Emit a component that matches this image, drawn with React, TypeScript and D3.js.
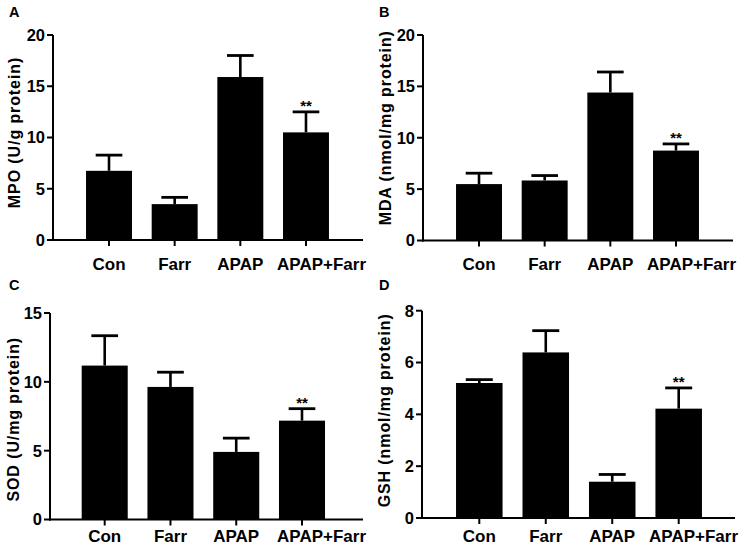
import React from "react";
import * as d3 from "d3";

const categories = ["Con", "Farr", "APAP", "APAP+Farr"];
const significance = ["", "", "", "**"];

const mpoMean = [6.75, 3.5, 15.9, 10.5];
const mpoSem = [1.53, 0.66, 2.1, 2.0];
const mpoTicks = [0, 5, 10, 15, 20];

const mdaMean = [5.49, 5.84, 14.4, 8.75];
const mdaSem = [1.06, 0.48, 2.0, 0.65];
const mdaTicks = [0, 5, 10, 15, 20];

const sodMean = [11.18, 9.63, 4.91, 7.18];
const sodSem = [2.17, 1.07, 1.0, 0.87];
const sodTicks = [0, 5, 10, 15];

const gshMean = [5.21, 6.39, 1.4, 4.22];
const gshSem = [0.13, 0.84, 0.28, 0.8];
const gshTicks = [0, 2, 4, 6, 8];

const FONT = "'Liberation Sans', Arial, Helvetica, sans-serif";

type PanelProps = {
  letter: string;
  label: string;
  means: number[];
  sems: number[];
  ticks: number[];
  ox: number;
  oy: number;
  axisX: number;
  xEnd: number;
  bandStart: number;
  bandEnd: number;
  yTop: number;
  y0: number;
  labelX: number;
  labelDy?: number;
  xLabelOffset: number;
};

function Panel(p: PanelProps) {
  const yMax = p.ticks[p.ticks.length - 1];
  const y = d3.scaleLinear().domain([0, yMax]).range([p.y0, p.yTop]);
  const x = d3
    .scaleBand<string>()
    .domain(categories)
    .range([p.bandStart, p.bandEnd])
    .paddingInner(0.3)
    .paddingOuter(0.5);
  const bw = x.bandwidth();
  const capW = bw * 0.58;
  const midY = (p.y0 + p.yTop) / 2 + (p.labelDy || 0);
  return (
    <g transform={`translate(${p.ox},${p.oy})`} fontFamily={FONT} fontWeight="bold">
      <text x={9} y={17} fontSize={14.5}>
        {p.letter}
      </text>
      {categories.map((c, i) => {
        const x0 = x(c)!;
        const cx = x0 + bw / 2;
        const top = y(p.means[i]);
        const errTop = y(p.means[i] + p.sems[i]);
        return (
          <g key={c}>
            <line x1={cx} x2={cx} y1={top} y2={errTop} stroke="#000" strokeWidth={2.6} />
            <line
              x1={cx - capW / 2}
              x2={cx + capW / 2}
              y1={errTop}
              y2={errTop}
              stroke="#000"
              strokeWidth={2.8}
            />
            <rect x={x0} y={top} width={bw} height={p.y0 - top} fill="#000" />
            {significance[i] && (
              <text x={cx} y={errTop - 0.5} textAnchor="middle" fontSize={15}>
                {significance[i]}
              </text>
            )}
          </g>
        );
      })}
      <line x1={p.axisX} x2={p.axisX} y1={p.yTop} y2={p.y0 + 1} stroke="#000" strokeWidth={2} />
      {p.ticks.map((t) => (
        <g key={t}>
          <line x1={p.axisX - 6} x2={p.axisX} y1={y(t)} y2={y(t)} stroke="#000" strokeWidth={2} />
          <text x={p.axisX - 8} y={y(t)} dy="0.36em" textAnchor="end" fontSize={16.5}>
            {t}
          </text>
        </g>
      ))}
      <line x1={p.axisX - 1} x2={p.xEnd} y1={p.y0} y2={p.y0} stroke="#000" strokeWidth={2} />
      {categories.map((c, i) => {
        const cx = x(c)! + bw / 2;
        const isLast = i === categories.length - 1;
        return (
          <g key={c}>
            <line x1={cx} x2={cx} y1={p.y0} y2={p.y0 + 6} stroke="#000" strokeWidth={2} />
            <text
              x={isLast ? p.xEnd + 3 : cx}
              y={p.y0 + p.xLabelOffset}
              textAnchor={isLast ? "end" : "middle"}
              fontSize={17}
            >
              {c}
            </text>
          </g>
        );
      })}
      <text
        transform={`translate(${p.labelX},${midY}) rotate(-90)`}
        textAnchor="middle"
        fontSize={16}
        letterSpacing={0.9}
        dy="0.35em"
      >
        {p.label}
      </text>
    </g>
  );
}

export default function App() {
  return (
    <svg
      width={740}
      height={547}
      viewBox="0 0 740 547"
      style={{ position: "absolute", left: 0, top: 0, background: "#fff" }}
    >
      <rect width={740} height={547} fill="#fff" />
      <Panel
        letter="A"
        label="MPO (U/g protein)"
        means={mpoMean}
        sems={mpoSem}
        ticks={mpoTicks}
        ox={0}
        oy={0}
        axisX={53}
        xEnd={363}
        bandStart={53.2}
        bandEnd={361.8}
        yTop={35}
        y0={240}
        labelX={14}
        labelDy={-5}
        xLabelOffset={30}
      />
      <Panel
        letter="B"
        label="MDA (nmol/mg protein)"
        means={mdaMean}
        sems={mdaSem}
        ticks={mdaTicks}
        ox={370}
        oy={0}
        axisX={53}
        xEnd={363}
        bandStart={53.2}
        bandEnd={361.8}
        yTop={35}
        y0={240.5}
        labelX={15}
        labelDy={-10}
        xLabelOffset={29}
      />
      <Panel
        letter="C"
        label="SOD (U/mg protein)"
        means={sodMean}
        sems={sodSem}
        ticks={sodTicks}
        ox={0}
        oy={273}
        axisX={50}
        xEnd={363}
        bandStart={48.8}
        bandEnd={357.9}
        yTop={40}
        y0={246.5}
        labelX={13}
        labelDy={3}
        xLabelOffset={22}
      />
      <Panel
        letter="D"
        label="GSH (nmol/mg protein)"
        means={gshMean}
        sems={gshSem}
        ticks={gshTicks}
        ox={370}
        oy={273}
        axisX={52}
        xEnd={365}
        bandStart={52.8}
        bandEnd={365.2}
        yTop={37.7}
        y0={245}
        labelX={14}
        labelDy={-4}
        xLabelOffset={24}
      />
    </svg>
  );
}
